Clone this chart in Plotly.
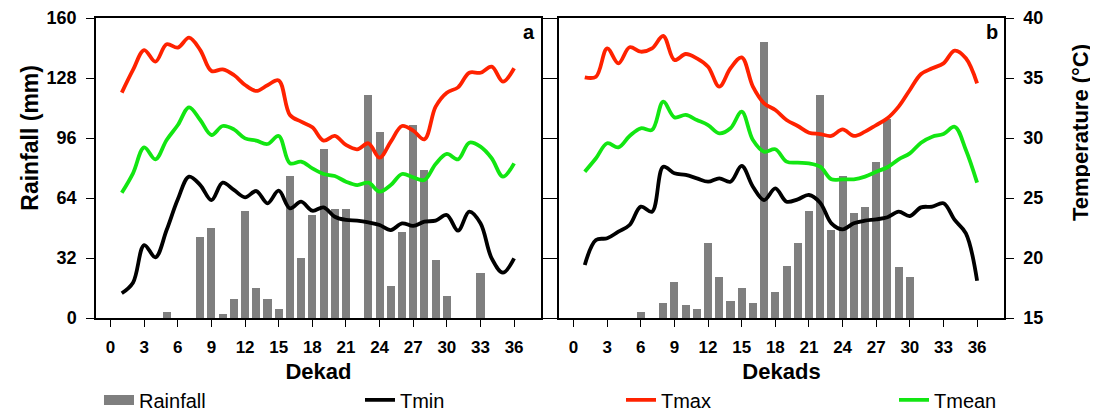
import plotly.graph_objects as go

dekads = list(range(1, 37))
x_ticks = list(range(0, 37, 3))
rain_ticks = [0, 32, 64, 96, 128, 160]
temp_ticks = [15, 20, 25, 30, 35, 40]

# Panel a
rain_a = [0, 0, 0, 0, 3, 0, 0, 43, 48, 2, 10, 57, 16, 10, 5, 76, 32, 55, 90, 58,
          58, 0, 119, 99, 17, 46, 103, 79, 31, 12, 0, 0, 24, 0, 0, 0]
tmin_a = [17.06, 17.94, 21.08, 20.06, 22.33, 24.89, 26.78, 26.08, 24.83, 26.28,
          25.67, 25.06, 25.58, 24.56, 25.61, 24.14, 24.69, 23.94, 24.22, 23.44,
          23.17, 23.11, 22.97, 22.75, 22.33, 22.89, 22.67, 23.03, 23.11, 23.58,
          22.28, 23.86, 22.89, 19.97, 18.78, 19.97]
tmax_a = [33.78, 35.67, 37.33, 36.36, 37.81, 37.53, 38.36, 37.33, 35.58, 35.72,
          35.25, 34.42, 33.92, 34.4, 34.8, 31.92, 31.36, 30.89, 29.78, 30.17,
          29.42, 29.06, 29.56, 28.36, 29.69, 31.0, 30.61, 29.89, 32.61, 33.78,
          34.22, 35.44, 35.44, 35.94, 34.7, 35.81]
tmean_a = [25.44, 27.06, 29.22, 28.22, 29.83, 31.08, 32.56, 31.5, 30.25, 31.0,
           30.72, 29.97, 29.78, 29.5, 30.17, 27.89, 28.03, 27.47, 27.0, 26.83,
           26.36, 26.08, 26.28, 25.53, 26.08, 27.0, 26.72, 26.5, 27.83, 28.67,
           28.22, 29.61, 29.28, 28.31, 26.78, 27.89]

# Panel b
rain_b = [0, 0, 0, 0, 0, 3, 0, 8, 19, 7, 5, 40, 22, 9, 16, 8, 147, 14, 28, 40,
          57, 119, 47, 76, 56, 59, 83, 106, 27, 22, 0, 0, 0, 0, 0, 0]
tmin_b = [19.42, 21.5, 21.64, 22.19, 22.75, 24.28, 23.86, 27.61, 27.06, 26.92,
          26.64, 26.36, 26.64, 26.36, 27.67, 25.94, 24.83, 25.81, 24.69, 24.89,
          25.25, 24.61, 22.89, 22.39, 22.89, 23.11, 23.22, 23.39, 23.86, 23.5,
          24.22, 24.28, 24.56, 23.17, 22.06, 18.11]
tmax_b = [35.06, 35.11, 37.47, 36.22, 37.56, 37.19, 37.47, 38.5, 36.5, 37.0,
          36.64, 35.94, 34.28, 35.81, 36.72, 34.28, 32.89, 32.33, 31.5, 31.0,
          30.44, 30.33, 30.17, 30.72, 30.17, 30.53, 31.08, 31.64, 32.61, 34.0,
          35.33, 35.81, 36.22, 37.28, 36.64, 34.56]
tmean_b = [27.19, 28.31, 29.56, 29.22, 30.17, 30.81, 30.67, 33.03, 31.72, 31.92,
           31.5, 31.08, 30.39, 30.81, 32.19, 29.83, 28.86, 29.06, 28.03, 27.94,
           27.89, 27.61, 26.56, 26.56, 26.56, 26.78, 27.19, 27.56, 28.22, 28.72,
           29.61, 30.11, 30.33, 30.94, 29.0, 26.28]

FONT = "Liberation Sans, Arial, sans-serif"
BAR_C = "#7f7f7f"
TMIN_C = "#000000"
TMAX_C = "#ff2200"
TMEAN_C = "#12e612"
LW = 3.8

fig = go.Figure()

# legend key for rainfall drawn as a wide grey band (like the reference key)
fig.add_trace(go.Scatter(x=[None], y=[None], mode="lines", name="Rainfall",
                         line=dict(color=BAR_C, width=10), xaxis="x", yaxis="y",
                         showlegend=True, legendrank=1, legend="legend"))

for panel, (rain, tmin, tmax, tmean, xa, yr, yt) in enumerate([
        (rain_a, tmin_a, tmax_a, tmean_a, "x", "y", "y2"),
        (rain_b, tmin_b, tmax_b, tmean_b, "x2", "y3", "y4")]):
    show = panel == 0
    fig.add_trace(go.Bar(x=dekads, y=rain, name="Rainfall", marker_color=BAR_C,
                         marker_line_width=0, width=0.72, xaxis=xa, yaxis=yr,
                         showlegend=False))
    for name, vals, col, rank, lg in [("Tmin", tmin, TMIN_C, 2, "legend"),
                                      ("Tmax", tmax, TMAX_C, 3, "legend"),
                                      ("Tmean", tmean, TMEAN_C, 4, "legend2")]:
        fig.add_trace(go.Scatter(x=dekads, y=vals, name=name, mode="lines",
                                 line=dict(color=col, width=LW, shape="spline", smoothing=1.0),
                                 xaxis=xa, yaxis=yt, showlegend=show, legendrank=rank,
                                 legend=lg))

axis_common = dict(showline=True, linecolor="black", linewidth=1.5, ticks="outside",
                   tickcolor="black", tickwidth=1.2, showgrid=False, zeroline=False)
tickfont = dict(family=FONT, size=17, color="black", weight="bold")
ytickfont = dict(family=FONT, size=18, color="black", weight="bold")
xr = [-1.3, 38.4]
legend_font = dict(family=FONT, size=20, color="black")

# The page body adds an 8px offset, so the figure is 8px smaller on each side
fig.update_layout(
    width=1090, height=404,
    margin=dict(l=88, r=94, t=10, b=94, autoexpand=False),
    plot_bgcolor="white", paper_bgcolor="white",
    bargap=0,
    font=dict(family=FONT, color="black"),
    xaxis=dict(domain=[0, 0.4901], range=xr, tickvals=x_ticks, anchor="y", mirror=True,
               tickfont=tickfont, ticklen=7, ticklabelstandoff=6,
               title=dict(text="Dekad", font=dict(family=FONT, size=22, weight="bold"), standoff=7),
               **axis_common),
    xaxis2=dict(domain=[0.5099, 1], range=xr, tickvals=x_ticks, anchor="y3", mirror=True,
                tickfont=tickfont, ticklen=7, ticklabelstandoff=6,
                title=dict(text="Dekads", font=dict(family=FONT, size=22, weight="bold"), standoff=7),
                **axis_common),
    yaxis=dict(range=[0, 160], tickvals=rain_ticks, anchor="x", side="left",
               tickfont=ytickfont, ticklen=8, ticklabelstandoff=6, **axis_common),
    yaxis2=dict(range=[15, 40], tickvals=temp_ticks, anchor="x", overlaying="y", side="right",
                showticklabels=False, ticklen=7, **axis_common),
    yaxis3=dict(range=[0, 160], tickvals=rain_ticks, anchor="x2", side="left",
                showticklabels=False, ticklen=7, **axis_common),
    yaxis4=dict(range=[15, 40], tickvals=temp_ticks, anchor="x2", overlaying="y3", side="right",
                tickfont=ytickfont, ticklen=8, ticklabelstandoff=6, **axis_common),
    legend=dict(orientation="h", x=0.0033, xanchor="left", y=-0.273, yanchor="middle",
                entrywidth=216, entrywidthmode="pixels",
                font=legend_font, traceorder="normal"),
    legend2=dict(orientation="h", x=(894 - 96) / 908, xanchor="left", y=-0.273, yanchor="middle",
                 font=legend_font),
    annotations=[
        dict(text="Rainfall (mm)", xref="paper", yref="paper", x=-0.073, y=0.6,
             textangle=-90, showarrow=False, xanchor="center", yanchor="middle",
             font=dict(family=FONT, size=23, weight="bold")),
        dict(text="Temperature (°C)", xref="paper", yref="paper", x=1.0837, y=0.62,
             textangle=-90, showarrow=False, xanchor="center", yanchor="middle",
             font=dict(family=FONT, size=22, weight="bold")),
        dict(text="a", xref="x domain", yref="y domain", x=0.99, y=0.955,
             showarrow=False, xanchor="right", yanchor="middle",
             font=dict(family=FONT, size=20, weight="bold")),
        dict(text="b", xref="x2 domain", yref="y3 domain", x=0.99, y=0.955,
             showarrow=False, xanchor="right", yanchor="middle",
             font=dict(family=FONT, size=20, weight="bold")),
    ],
)

fig.write_html("out.html")
